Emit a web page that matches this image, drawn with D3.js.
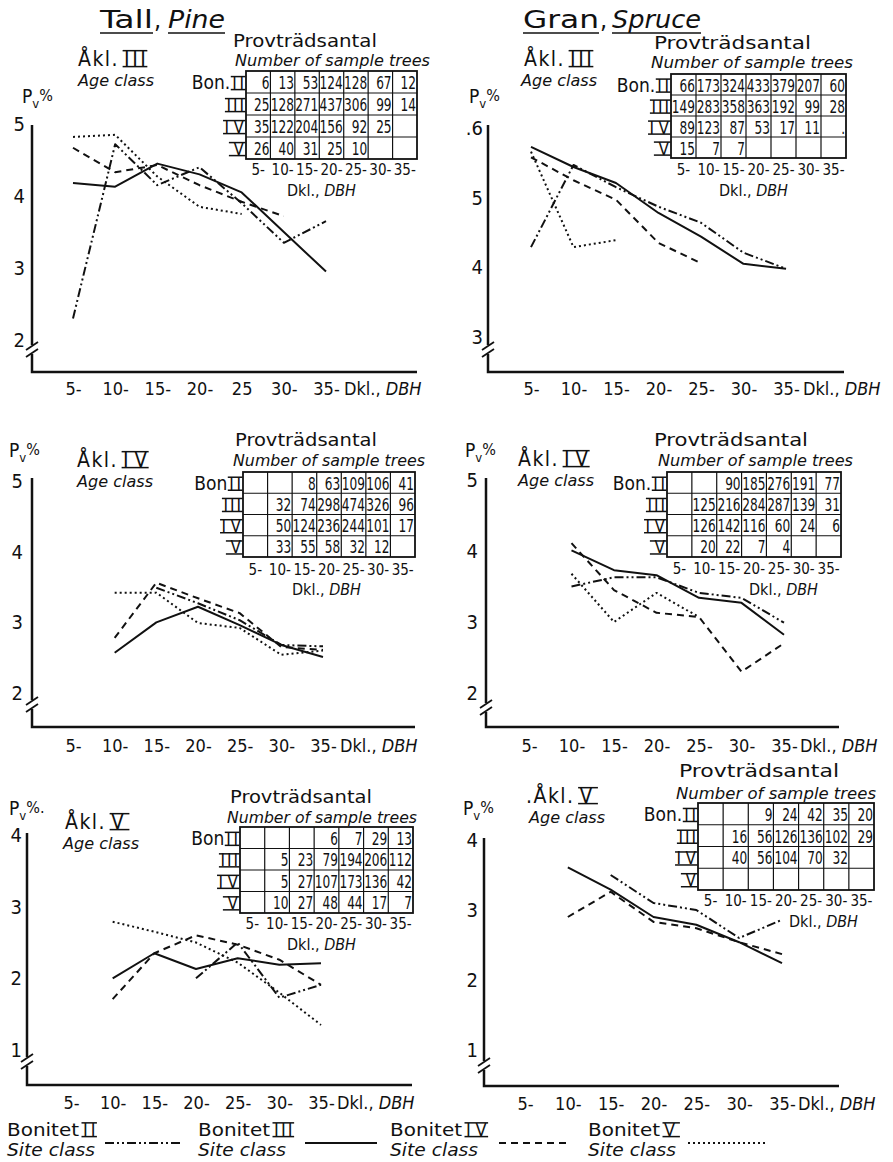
<!DOCTYPE html>
<html>
<head>
<meta charset="utf-8">
<script src="https://cdn.jsdelivr.net/npm/d3@7"></script>
<style>
  body { margin: 0; background: #fff; }
  text { font-family: "DejaVu Sans Condensed", "DejaVu Sans", sans-serif; fill: #111; }
</style>
</head>
<body>
<svg id="fig" width="893" height="1162"></svg>
<script>
// diameter classes (cm) and site classes
var dbhClasses = [5, 10, 15, 20, 25, 30, 35];
var siteClasses = ["II", "III", "IV", "V"];
var dbhLabels = ["5-", "10-", "15-", "20-", "25-", "30-", "35-"];
var pineIIIdbhLabels = ["5-", "10-", "15-", "20-", "25", "30-", "35-"];

// Pv % (null = no point)
var pineIII_bonII  = [2.3, 4.72, 4.15, 4.4, 3.9, 3.35, 3.65];
var pineIII_bonIII = [4.18, 4.13, 4.45, 4.3, 4.05, 3.5, 2.95];
var pineIII_bonIV  = [4.67, 4.33, 4.43, 4.15, 3.92, 3.72, null];
var pineIII_bonV   = [4.82, 4.85, 4.27, 3.85, 3.75, null, null];

var spruceIII_bonII  = [4.29, 5.47, 5.15, 4.87, 4.64, 4.21, 3.98];
var spruceIII_bonIII = [5.73, 5.44, 5.21, 4.78, 4.44, 4.05, 3.98];
var spruceIII_bonIV  = [5.58, 5.25, 4.97, 4.35, 4.06, null, null];
var spruceIII_bonV   = [5.66, 4.29, 4.39, null, null, null, null];

var pineIV_bonII  = [null, null, 3.49, 3.27, 3.03, 2.68, 2.66];
var pineIV_bonIII = [null, 2.57, 3.0, 3.22, 2.96, 2.68, 2.51];
var pineIV_bonIV  = [null, 2.78, 3.56, 3.34, 3.13, 2.65, 2.61];
var pineIV_bonV   = [null, 3.42, 3.42, 2.99, 2.92, 2.54, 2.6];

var spruceIV_bonII  = [null, 3.5, 3.63, 3.63, 3.41, 3.34, 2.99];
var spruceIV_bonIII = [null, 4.01, 3.73, 3.66, 3.34, 3.27, 2.82];
var spruceIV_bonIV  = [null, 4.11, 3.45, 3.13, 3.07, 2.3, 2.7];
var spruceIV_bonV   = [null, 3.68, 3.0, 3.41, 3.07, null, null];

var pineV_bonII  = [null, null, null, 2.0, 2.5, 1.73, 1.91];
var pineV_bonIII = [null, 2.0, 2.35, 2.13, 2.28, 2.19, 2.21];
var pineV_bonIV  = [null, 1.71, 2.35, 2.6, 2.47, 2.26, 1.91];
var pineV_bonV   = [null, 2.79, 2.65, 2.5, 2.22, 1.8, 1.35];

var spruceV_bonII  = [null, null, 3.5, 3.1, 3.0, 2.6, 2.86];
var spruceV_bonIII = [null, 3.61, 3.29, 2.9, 2.79, 2.54, 2.24];
var spruceV_bonIV  = [null, 2.9, 3.26, 2.83, 2.74, 2.54, 2.37];
var spruceV_bonV   = [null, null, null, null, null, null, null];

// number of sample trees, rows = site class II..V, columns = dbh class
var pineIIIcounts = [
  [6, 13, 53, 124, 128, 67, 12],
  [25, 128, 271, 437, 306, 99, 14],
  [35, 122, 204, 156, 92, 25, ""],
  [26, 40, 31, 25, 10, "", ""]
];
var spruceIIIcounts = [
  [66, 173, 324, 433, 379, 207, 60],
  [149, 283, 358, 363, 192, 99, 28],
  [89, 123, 87, 53, 17, 11, "."],
  [15, 7, 7, "", "", "", ""]
];
var pineIVcounts = [
  ["", "", 8, 63, 109, 106, 41],
  ["", 32, 74, 298, 474, 326, 96],
  ["", 50, 124, 236, 244, 101, 17],
  ["", 33, 55, 58, 32, 12, ""]
];
var spruceIVcounts = [
  ["", "", 90, 185, 276, 191, 77],
  ["", 125, 216, 284, 287, 139, 31],
  ["", 126, 142, 116, 60, 24, 6],
  ["", 20, 22, 7, 4, "", ""]
];
var pineVcounts = [
  ["", "", "", 6, 7, 29, 13],
  ["", 5, 23, 79, 194, 206, 112],
  ["", 5, 27, 107, 173, 136, 42],
  ["", 10, 27, 48, 44, 17, 7]
];
var spruceVcounts = [
  ["", "", 9, 24, 42, 35, 20],
  ["", 16, 56, 126, 136, 102, 29],
  ["", 40, 56, 104, 70, 32, ""],
  ["", "", "", "", "", "", ""]
];

var yTicksIII = [2, 3, 4, 5];
var yTicksSpruceIII = [3, 4, 5, 6];
var yTicksIV = [2, 3, 4, 5];
var yTicksV = [1, 2, 3, 4];

// line style per site class
var lineDash = ["9,3,2,3,2,3", null, "7,5", "2,3"];

var svg = d3.select("#fig");

function word(g, x, y, s, size, opt) {
  opt = opt || {};
  var t = g.append("text").attr("x", x).attr("y", y)
    .attr("text-anchor", opt.anchor || "start")
    .style("font-size", size + "px")
    .text(s);
  if (opt.italic) t.style("font-style", "italic");
  if (opt.width) t.attr("textLength", opt.width).attr("lengthAdjust", "spacingAndGlyphs");
  return t;
}

// roman numeral with bars above and below
function roman(g, x, y, s, size, anchor) {
  var t = word(g, x, y, s, size, { anchor: anchor });
  var w = t.node().getComputedTextLength() * 1.3;
  t.attr("textLength", w).attr("lengthAdjust", "spacing");
  var x0 = anchor === "end" ? x - w : (anchor === "middle" ? x - w / 2 : x);
  var cap = size * 0.73;
  [y - cap, y + 0.6].forEach(function (yy) {
    g.append("line").attr("x1", x0 - 1.5).attr("x2", x0 + w + 1.5)
      .attr("y1", yy).attr("y2", yy)
      .attr("stroke", "#111").attr("stroke-width", 1.5);
  });
  return w;
}

var panels = [
  { series: [pineIII_bonII, pineIII_bonIII, pineIII_bonIV, pineIII_bonV], counts: pineIIIcounts,
    ageClass: "III", akText: "Åkl.", xLabels: pineIIIdbhLabels, yTicks: yTicksIII, pvSuffix: "%", bonText: "Bon.",
    x5: 73, x35: 326, yLow: 340, yHigh: 124, axisX: 32, axisTop: 125, axisBottom: 372, axisRight: 417,
    breakY: 350, yPad: 7, xPad: 10, dklX: 344,
    pv: [22, 103], ak: [78, 66], age: [78, 86],
    table: [246, 71, 417, 159], prov: [233, 47, 144], num: [235, 66, 195], tLabY: 175, tDkl: [287, 196] },
  { series: [spruceIII_bonII, spruceIII_bonIII, spruceIII_bonIV, spruceIII_bonV], counts: spruceIIIcounts,
    ageClass: "III", akText: "Åkl.", xLabels: dbhLabels, yTicks: yTicksSpruceIII, pvSuffix: "%", bonText: "Bon.",
    x5: 531, x35: 786, yLow: 337, yHigh: 128, axisX: 488, axisTop: 125, axisBottom: 372, axisRight: 844,
    breakY: 350, yPad: 5, xPad: 10, dklX: 803,
    pv: [469, 103], ak: [524, 66], age: [521, 86],
    table: [671, 74, 846, 158], prov: [654, 49, 157], num: [651, 68, 202], tLabY: 175, tDkl: [719, 196] },
  { series: [pineIV_bonII, pineIV_bonIII, pineIV_bonIV, pineIV_bonV], counts: pineIVcounts,
    ageClass: "IV", akText: "Åkl.", xLabels: dbhLabels, yTicks: yTicksIV, pvSuffix: "%", bonText: "Bon",
    x5: 73, x35: 323, yLow: 693, yHigh: 481, axisX: 32, axisTop: 478, axisBottom: 727, axisRight: 415,
    breakY: 705, yPad: 9, xPad: 12, dklX: 340,
    pv: [9, 457], ak: [77, 467], age: [77, 487],
    table: [243, 472, 415, 557], prov: [235, 446, 142], num: [233, 466, 192], tLabY: 575, tDkl: [292, 595] },
  { series: [spruceIV_bonII, spruceIV_bonIII, spruceIV_bonIV, spruceIV_bonV], counts: spruceIVcounts,
    ageClass: "IV", akText: "Åkl.", xLabels: dbhLabels, yTicks: yTicksIV, pvSuffix: "%", bonText: "Bon.",
    x5: 529, x35: 784, yLow: 693, yHigh: 480, axisX: 486, axisTop: 478, axisBottom: 727, axisRight: 839,
    breakY: 708, yPad: 8, xPad: 12, dklX: 800,
    pv: [465, 457], ak: [518, 466], age: [518, 486],
    table: [667, 472, 841, 557], prov: [654, 446, 154], num: [658, 466, 195], tLabY: 574, tDkl: [749, 595] },
  { series: [pineV_bonII, pineV_bonIII, pineV_bonIV, pineV_bonV], counts: pineVcounts,
    ageClass: "V", akText: "Åkl.", xLabels: dbhLabels, yTicks: yTicksV, pvSuffix: "%.", bonText: "Bon",
    x5: 71, x35: 321, yLow: 1050, yHigh: 835, axisX: 27, axisTop: 833, axisBottom: 1085, axisRight: 412,
    breakY: 1062, yPad: 5, xPad: 11, dklX: 337,
    pv: [9, 815], ak: [65, 829], age: [63, 849],
    table: [240, 827, 413, 913], prov: [230, 803, 142], num: [227, 823, 190], tLabY: 929, tDkl: [287, 950] },
  { series: [spruceV_bonII, spruceV_bonIII, spruceV_bonIV, spruceV_bonV], counts: spruceVcounts,
    ageClass: "V", akText: ".Åkl.", xLabels: dbhLabels, yTicks: yTicksV, pvSuffix: "%", bonText: "Bon.",
    x5: 525, x35: 782, yLow: 1050, yHigh: 840, axisX: 484, axisTop: 838, axisBottom: 1086, axisRight: 839,
    breakY: 1066, yPad: 6, xPad: 11, dklX: 798,
    pv: [463, 815], ak: [526, 803], age: [529, 823],
    table: [698, 803, 874, 890], prov: [679, 777, 160], num: [676, 799, 200], tLabY: 906, tDkl: [789, 927] }
];

function drawPanel(p) {
  var g = svg.append("g");
  var x = d3.scalePoint().domain(dbhClasses).range([p.x5, p.x35]);
  var y = d3.scaleLinear()
    .domain([p.yTicks[0], p.yTicks[p.yTicks.length - 1]])
    .range([p.yLow, p.yHigh]);

  // y tick labels
  g.append("g")
    .attr("transform", "translate(" + p.axisX + ",0)")
    .call(d3.axisLeft(y).tickValues(p.yTicks).tickSize(0).tickPadding(p.yPad)
      .tickFormat(function (d) { return d === 6 ? ".6" : d; }))
    .call(function (a) {
      a.select(".domain").remove();
      a.selectAll("text").style("font-size", "20px").attr("fill", "#111");
    });

  // x tick labels
  g.append("g")
    .attr("transform", "translate(0," + p.axisBottom + ")")
    .call(d3.axisBottom(x).tickSize(0).tickPadding(p.xPad)
      .tickFormat(function (d, i) { return p.xLabels[i]; }))
    .call(function (a) {
      a.select(".domain").remove();
      a.selectAll("text").style("font-size", "18px").attr("fill", "#111");
    });

  var dkl = g.append("text").attr("x", p.dklX).attr("y", p.axisBottom + p.xPad + 13)
    .style("font-size", "18px");
  dkl.append("tspan").text("Dkl.,");
  dkl.append("tspan").style("font-style", "italic").text(" DBH");

  // axes with break
  g.append("path")
    .attr("d", "M" + p.axisX + "," + p.axisTop + "V" + (p.breakY - 5) +
      "M" + p.axisX + "," + (p.breakY + 4) + "V" + p.axisBottom + "H" + p.axisRight)
    .attr("fill", "none").attr("stroke", "#111").attr("stroke-width", 2.5);
  [-4, 3].forEach(function (o) {
    g.append("line")
      .attr("x1", p.axisX - 6).attr("y1", p.breakY + o + 4)
      .attr("x2", p.axisX + 6).attr("y2", p.breakY + o - 4)
      .attr("stroke", "#111").attr("stroke-width", 1.8);
  });

  // curves
  var line = d3.line()
    .defined(function (d) { return d != null; })
    .x(function (d, i) { return x(dbhClasses[i]); })
    .y(function (d) { return y(d); });
  p.series.forEach(function (s, k) {
    if (s.filter(function (d) { return d != null; }).length < 2) return;
    g.append("path").datum(s)
      .attr("d", line)
      .attr("fill", "none")
      .attr("stroke", "#111")
      .attr("stroke-width", 2)
      .attr("stroke-linejoin", "round")
      .attr("stroke-dasharray", lineDash[k]);
  });

  // labels: Pv %, age class
  var pv = g.append("text").attr("x", p.pv[0]).attr("y", p.pv[1]).style("font-size", "19px");
  pv.append("tspan").text("P");
  pv.append("tspan").attr("dy", 5).style("font-size", "13px").text("v");
  pv.append("tspan").attr("dy", -7).style("font-size", "16px").text(p.pvSuffix);

  var ak = word(g, p.ak[0], p.ak[1], p.akText, 21).style("letter-spacing", "1.5px");
  roman(g, p.ak[0] + ak.node().getComputedTextLength() + 5, p.ak[1], p.ageClass, 21, "start");
  word(g, p.age[0], p.age[1], "Age class", 16, { italic: true, width: 76 });

  // sample tree table
  var t = p.table;
  var cx = d3.scaleBand().domain(dbhClasses).range([t[0], t[2]]);
  var ry = d3.scaleBand().domain(siteClasses).range([t[1], t[3]]);
  word(g, p.prov[0], p.prov[1], "Provträdsantal", 18, { width: p.prov[2] });
  word(g, p.num[0], p.num[1], "Number of sample trees", 15, { italic: true, width: p.num[2] });

  g.append("rect").attr("x", t[0]).attr("y", t[1])
    .attr("width", t[2] - t[0]).attr("height", t[3] - t[1])
    .attr("fill", "none").attr("stroke", "#111").attr("stroke-width", 1.8);
  g.selectAll(".vcell").data(dbhClasses.slice(1)).enter().append("line")
    .attr("x1", function (d) { return cx(d); }).attr("x2", function (d) { return cx(d); })
    .attr("y1", t[1]).attr("y2", t[3])
    .attr("stroke", "#111").attr("stroke-width", 1.2);
  g.selectAll(".hcell").data(siteClasses.slice(1)).enter().append("line")
    .attr("x1", t[0]).attr("x2", t[2])
    .attr("y1", function (d) { return ry(d); }).attr("y2", function (d) { return ry(d); })
    .attr("stroke", "#111").attr("stroke-width", 1.2);

  p.counts.forEach(function (row, r) {
    var yy = ry(siteClasses[r]) + ry.bandwidth() / 2 + 7;
    row.forEach(function (v, c) {
      if (v === "") return;
      // tall, narrow digits: small font stretched vertically
      g.append("text")
        .attr("text-anchor", "end")
        .attr("transform", "translate(" + (cx(dbhClasses[c]) + cx.bandwidth() - 1) + "," + yy + ") scale(1,1.35)")
        .style("font-size", "13.5px")
        .text(String(v));
    });
    var rw = roman(g, t[0] - 2, yy, siteClasses[r], 17, "end");
    if (r === 0) word(g, t[0] - 4 - rw, yy, p.bonText, 19, { anchor: "end" });
  });

  dbhLabels.forEach(function (s, c) {
    word(g, cx(dbhClasses[c]) + cx.bandwidth() / 2, p.tLabY, s, 15, { anchor: "middle" });
  });
  var td = g.append("text").attr("x", p.tDkl[0]).attr("y", p.tDkl[1]).style("font-size", "16px");
  td.append("tspan").text("Dkl.,");
  td.append("tspan").style("font-style", "italic").text(" DBH");
}

panels.forEach(drawPanel);

// species titles
function title(x1, s1, x2, s2, w1, w2) {
  var g = svg.append("g");
  word(g, x1, 28, s1, 25, { width: w1 });
  word(g, x1 + w1 + 1, 28, ",", 25);
  word(g, x2, 28, s2, 24, { italic: true, width: w2 });
  [[x1, w1], [x2, w2]].forEach(function (u) {
    g.append("line").attr("x1", u[0]).attr("x2", u[0] + u[1]).attr("y1", 33).attr("y2", 33)
      .attr("stroke", "#111").attr("stroke-width", 1.6);
  });
}
title(100, "Tall", 168, "Pine", 53, 57);
title(523, "Gran", 612, "Spruce", 76, 89);

// legend
var legendX = [7, 198, 390, 588];
var legendLine = [[105, 182], [305, 377], [499, 569], [688, 766]];
var lg = svg.append("g");
siteClasses.forEach(function (s, k) {
  word(lg, legendX[k], 1136, "Bonitet", 18, { width: 72 });
  roman(lg, legendX[k] + 76, 1136, s, 18, "start");
  word(lg, legendX[k], 1156, "Site class", 17, { italic: true, width: 88 });
  lg.append("line")
    .attr("x1", legendLine[k][0]).attr("x2", legendLine[k][1])
    .attr("y1", 1143).attr("y2", 1143)
    .attr("stroke", "#111").attr("stroke-width", 2)
    .attr("stroke-dasharray", lineDash[k]);
});
</script>
</body>
</html>
